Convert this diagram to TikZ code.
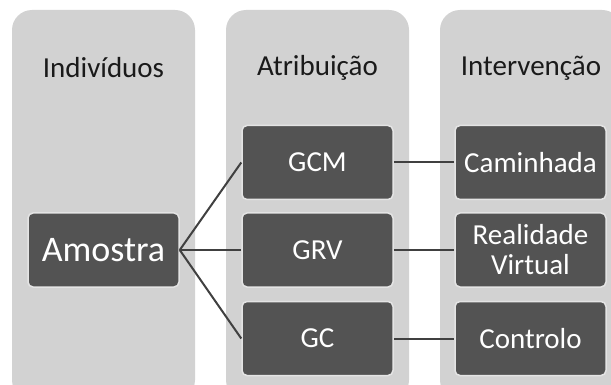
\documentclass[tikz,border=0pt]{standalone}
\usepackage{fontspec}
\setmainfont{Carlito}
\definecolor{panelgray}{HTML}{D2D2D2}
\definecolor{boxgray}{HTML}{535353}
\definecolor{boxedge}{HTML}{E4E4E4}
\definecolor{linegray}{HTML}{404040}
\definecolor{titlecol}{HTML}{1A1A1A}
\begin{document}
\begin{tikzpicture}[x=1pt,y=-1pt,
  panel/.style={fill=panelgray,rounded corners=20pt},
  gbox/.style={draw=boxedge,line width=1.5pt,fill=boxgray,rounded corners=5pt,
    minimum width=151pt,minimum height=74pt,inner sep=0pt,text=white,
    align=center,font=\fontsize{29}{30}\selectfont},
  title/.style={text=titlecol,font=\fontsize{29}{30}\selectfont,inner sep=0pt},
  conn/.style={draw=linegray,line width=2pt}]
\useasboundingbox (0,0) rectangle (611,385);
% panels
\fill[panel] (12,10) rectangle (195,400);
\fill[panel] (226,10) rectangle (409,400);
\fill[panel] (440,10) rectangle (622,400);
% titles
\node[title] (t1) at (103.5,68) {Indivíduos};
\node[title] (t2) at (317.5,68) {Atribuição};
\node[title] (t3) at (531,68) {Intervenção};
% boxes
\node[gbox,font=\fontsize{36}{38}\selectfont] (am) at (103.5,250) {Amostra};
\node[gbox] (gcm) at (317.5,162.5) {GCM};
\node[gbox] (grv) at (317.5,250) {GRV};
\node[gbox] (gc) at (317.5,338.5) {GC};
\node[gbox] (cam) at (530.5,162.5) {Caminhada};
\node[gbox] (rv) at (530.5,250) {Realidade\\Virtual};
\node[gbox] (ctl) at (530.5,338.5) {Controlo};
% connectors
\draw[conn] (am.east) -- (gcm.west);
\draw[conn] (am.east) -- (grv.west);
\draw[conn] (am.east) -- (gc.west);
\draw[conn] (gcm.east) -- (cam.west);
\draw[conn] (grv.east) -- (rv.west);
\draw[conn] (gc.east) -- (ctl.west);
\end{tikzpicture}
\end{document}
